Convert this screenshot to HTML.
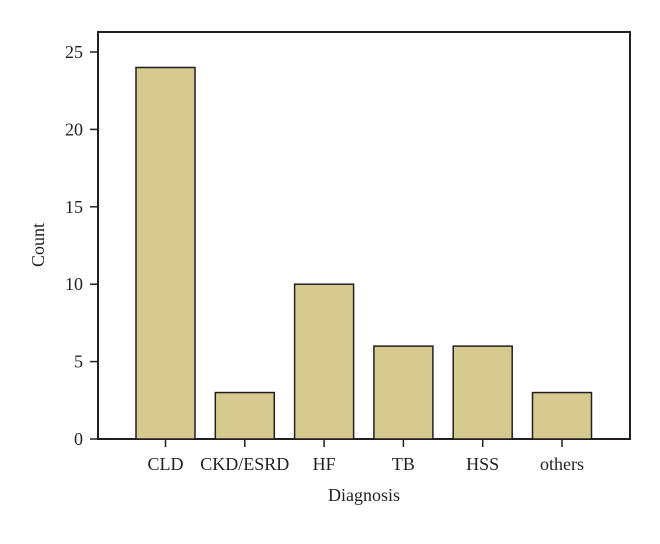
<!DOCTYPE html>
<html><head><meta charset="utf-8"><style>body{margin:0;background:#fff}svg text{font-family:"Liberation Serif",serif;fill:#231f20}</style></head>
<body>
<svg id="chart" width="660" height="539" xmlns="http://www.w3.org/2000/svg"></svg>
<script>
const categories=["CLD","CKD/ESRD","HF","TB","HSS","others"];
const counts=[24,3,10,6,6,3];
const yTicks=[0,5,10,15,20,25];
const svg=document.getElementById('chart');
const NS='http://www.w3.org/2000/svg';
const L=98,R=630,T=32,B=439,yMax=25,y25=52;
function y(v){return B-(B-y25)*v/yMax;}
const step=79.3,x0=165.5,bw=59;
function x(i){return x0+i*step;}
function mk(t,a,p){const e=document.createElementNS(NS,t);for(const k in a)e.setAttribute(k,a[k]);(p||svg).appendChild(e);return e;}
const frame=mk('rect',{x:L,y:T,width:R-L,height:B-T,fill:'none',stroke:'#231f20','stroke-width':2});


counts.forEach((v,i)=>{
 const b=mk('rect',{x:x(i)-bw/2,y:y(v),width:bw,height:B-y(v),fill:'#d6ca8f',stroke:'#231f20','stroke-width':1.5});
 
 
 const t=mk('line',{x1:x(i),x2:x(i),y1:B,y2:B+8,stroke:'#231f20','stroke-width':1.5});
 
 
 const l=mk('text',{x:x(i),y:470,'text-anchor':'middle','font-size':18});
 l.textContent=categories[i];
 
 
});
yTicks.forEach(v=>{
 const t=mk('line',{x1:L-8,x2:L,y1:y(v),y2:y(v),stroke:'#231f20','stroke-width':1.5});
 
 
 const l=mk('text',{x:L-15,y:y(v)+6,'text-anchor':'end','font-size':18});
 l.textContent=v;
 
 
});
const xt=mk('text',{x:364,y:501,'text-anchor':'middle','font-size':18});
xt.textContent='Diagnosis';


const yt=mk('text',{x:0,y:0,'text-anchor':'middle','font-size':18,transform:'translate(44,245) rotate(-90)'});
yt.textContent='Count';


</script>
</body></html>
